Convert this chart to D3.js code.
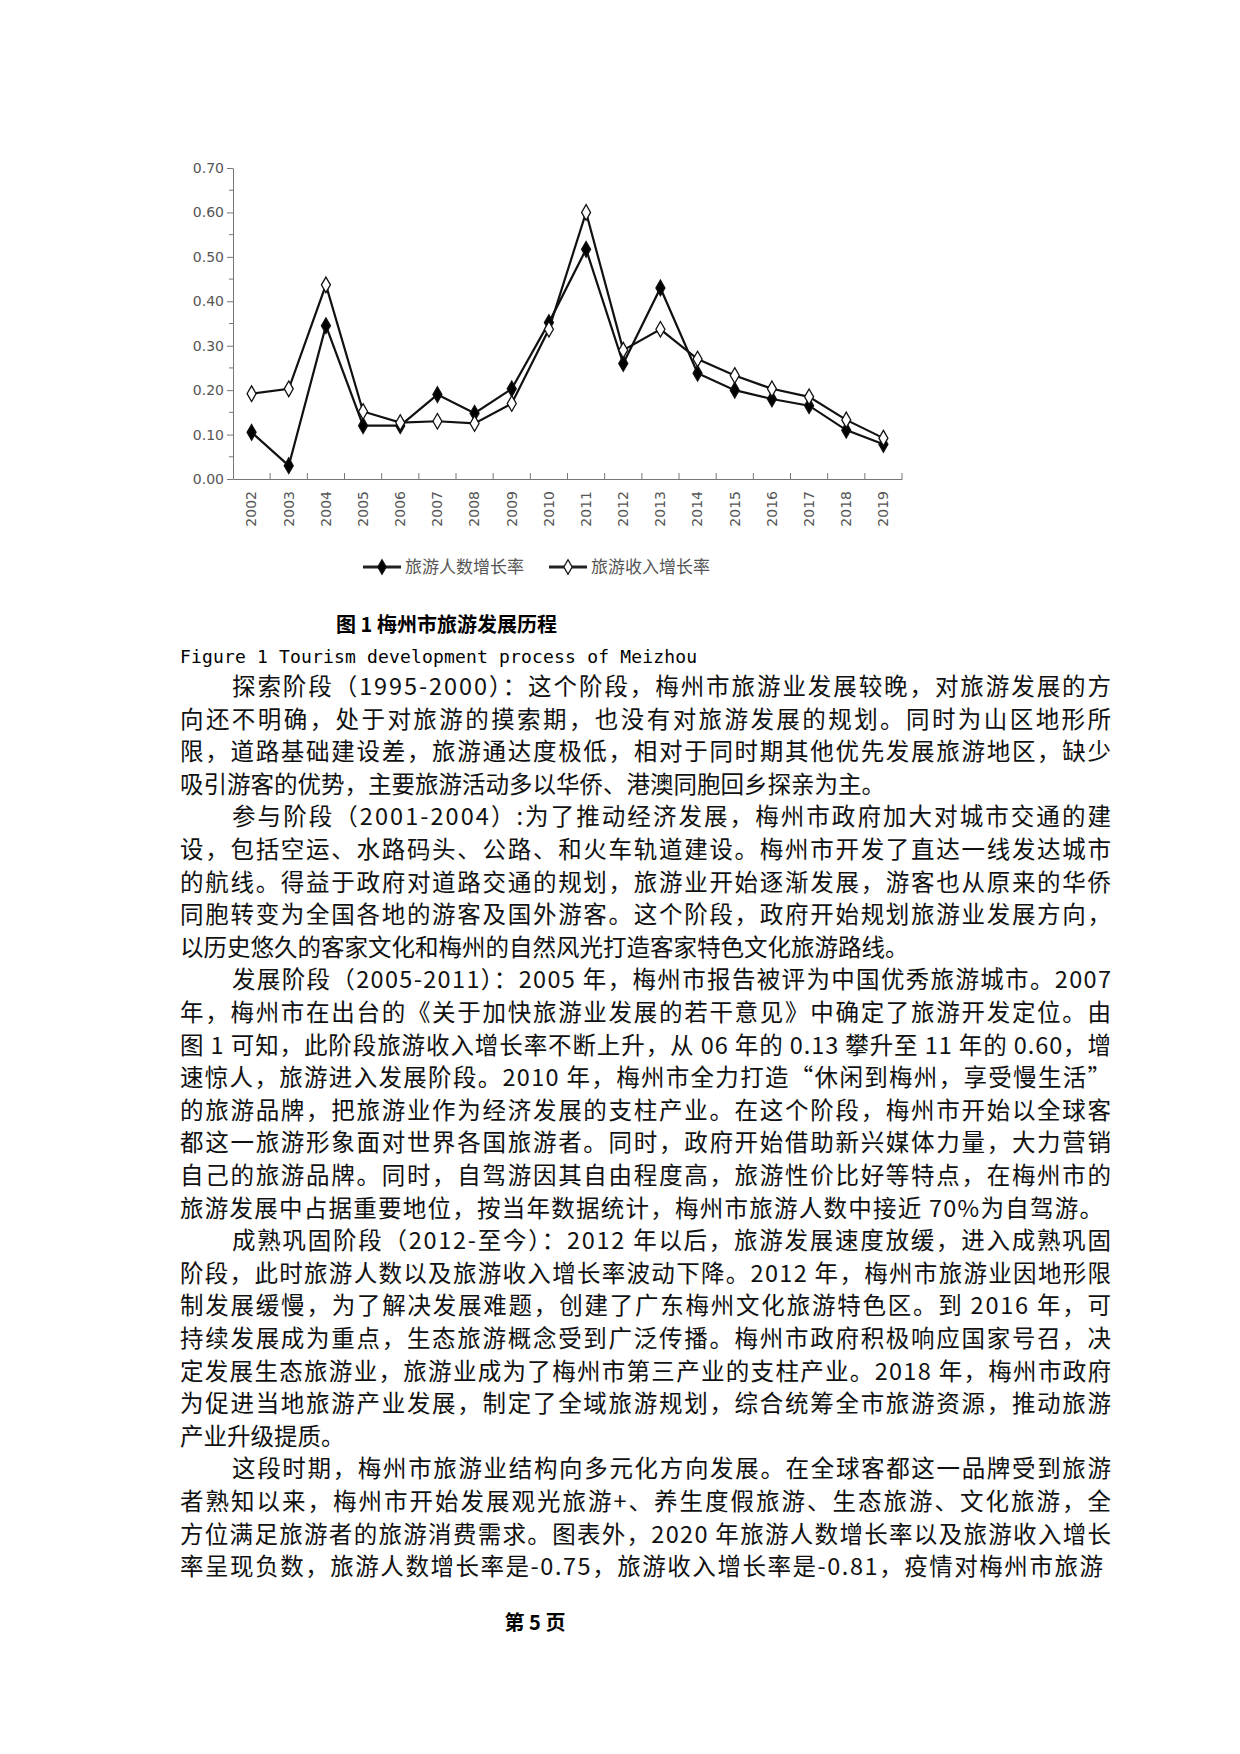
<!DOCTYPE html>
<html><head><meta charset="utf-8">
<script src="https://cdn.jsdelivr.net/npm/d3@7"></script>
<style>body{margin:0;background:#fff}</style></head>
<body><svg id="c" width="1240" height="1754"></svg>
<script>
const years = ["2002","2003","2004","2005","2006","2007","2008","2009","2010","2011","2012","2013","2014","2015","2016","2017","2018","2019"];
const visitorGrowth = [0.105,0.03,0.345,0.12,0.12,0.19,0.148,0.203,0.352,0.517,0.26,0.43,0.238,0.2,0.18,0.165,0.11,0.078];
const incomeGrowth = [0.192,0.203,0.437,0.152,0.127,0.13,0.125,0.17,0.337,0.60,0.29,0.337,0.27,0.233,0.203,0.185,0.133,0.092];
const yTicks = [0,0.1,0.2,0.3,0.4,0.5,0.6,0.7];
const seriesNames = ["旅游人数增长率","旅游收入增长率"];
const paragraphs = [
 ["探索阶段（1995-2000）：这个阶段，梅州市旅游业发展较晚，对旅游发展的方","向还不明确，处于对旅游的摸索期，也没有对旅游发展的规划。同时为山区地形所","限，道路基础建设差，旅游通达度极低，相对于同时期其他优先发展旅游地区，缺少","吸引游客的优势，主要旅游活动多以华侨、港澳同胞回乡探亲为主。"],
 ["参与阶段（2001-2004）:为了推动经济发展，梅州市政府加大对城市交通的建","设，包括空运、水路码头、公路、和火车轨道建设。梅州市开发了直达一线发达城市","的航线。得益于政府对道路交通的规划，旅游业开始逐渐发展，游客也从原来的华侨","同胞转变为全国各地的游客及国外游客。这个阶段，政府开始规划旅游业发展方向，","以历史悠久的客家文化和梅州的自然风光打造客家特色文化旅游路线。"],
 ["发展阶段（2005-2011）：2005 年，梅州市报告被评为中国优秀旅游城市。2007","年，梅州市在出台的《关于加快旅游业发展的若干意见》中确定了旅游开发定位。由","图 1 可知，此阶段旅游收入增长率不断上升，从 06 年的 0.13 攀升至 11 年的 0.60，增","速惊人，旅游进入发展阶段。2010 年，梅州市全力打造“休闲到梅州，享受慢生活”","的旅游品牌，把旅游业作为经济发展的支柱产业。在这个阶段，梅州市开始以全球客","都这一旅游形象面对世界各国旅游者。同时，政府开始借助新兴媒体力量，大力营销","自己的旅游品牌。同时，自驾游因其自由程度高，旅游性价比好等特点，在梅州市的","旅游发展中占据重要地位，按当年数据统计，梅州市旅游人数中接近 70%为自驾游。"],
 ["成熟巩固阶段（2012-至今）：2012 年以后，旅游发展速度放缓，进入成熟巩固","阶段，此时旅游人数以及旅游收入增长率波动下降。2012 年，梅州市旅游业因地形限","制发展缓慢，为了解决发展难题，创建了广东梅州文化旅游特色区。到 2016 年，可","持续发展成为重点，生态旅游概念受到广泛传播。梅州市政府积极响应国家号召，决","定发展生态旅游业，旅游业成为了梅州市第三产业的支柱产业。2018 年，梅州市政府","为促进当地旅游产业发展，制定了全域旅游规划，综合统筹全市旅游资源，推动旅游","产业升级提质。"],
 ["这段时期，梅州市旅游业结构向多元化方向发展。在全球客都这一品牌受到旅游","者熟知以来，梅州市开始发展观光旅游+、养生度假旅游、生态旅游、文化旅游，全","方位满足旅游者的旅游消费需求。图表外，2020 年旅游人数增长率以及旅游收入增长","率呈现负数，旅游人数增长率是-0.75，旅游收入增长率是-0.81，疫情对梅州市旅游"]
];
const svg = d3.select("#c");
const X0 = 233, X1 = 902, Y0 = 479, Y1 = 168;
const x = d3.scaleBand().domain(years).range([X0,X1]);
const y = d3.scaleLinear().domain([0,0.7]).range([Y0,Y1]);
const g = svg.append("g");
const ya = g.append("g").attr("transform",`translate(${X0},0)`)
  .call(d3.axisLeft(y).tickValues(yTicks).tickFormat(d3.format(".2f")).tickSize(6).tickSizeOuter(0));
ya.selectAll("text").attr("font-family","Tahoma, DejaVu Sans, sans-serif").attr("font-size",14).attr("fill","#555");
ya.selectAll("line,path").attr("stroke","#777");
const ym = d3.range(0.05,0.7,0.1);
g.selectAll(".mt").data(ym).join("line").attr("x1",X0).attr("x2",X0-4).attr("y1",d=>y(d)).attr("y2",d=>y(d)).attr("stroke","#777");
const xa = g.append("g").attr("transform",`translate(0,${Y0})`)
  .call(d3.axisBottom(x).tickSize(0).tickSizeOuter(0));
xa.select("path").attr("stroke","#777");
xa.selectAll("text").attr("font-family","DejaVu Sans, sans-serif").attr("font-size",14).attr("fill","#555")
  .attr("transform","rotate(-90)").attr("text-anchor","end").attr("dx","-12").attr("dy","0.35em").attr("x",0).attr("y",0);
g.selectAll(".xt").data(years).join("line")
  .attr("x1",(d,i)=>X0+x.step()*(i+1)).attr("x2",(d,i)=>X0+x.step()*(i+1)).attr("y1",Y0).attr("y2",Y0-6).attr("stroke","#777");
const line = d3.line().x((d,i)=>x(years[i])+x.bandwidth()/2).y(d=>y(d));
[visitorGrowth,incomeGrowth].forEach(arr=>{
  g.append("path").datum(arr).attr("d",line).attr("fill","none").attr("stroke","#111").attr("stroke-width",2.2);
});
[[visitorGrowth,"#000"],[incomeGrowth,"#fff"]].forEach(([arr,fill])=>{
  g.selectAll(null).data(arr).join("path")
   .attr("d",d3.symbol(d3.symbolDiamond,70))
   .attr("transform",(d,i)=>`translate(${x(years[i])+x.bandwidth()/2},${y(d)})`)
   .attr("fill",fill).attr("stroke","#111").attr("stroke-width",1.3);
});
// legend
const lg = svg.append("g").attr("transform","translate(363,567)");
seriesNames.forEach((n,i)=>{
  const ox = i===0?0:186;
  lg.append("line").attr("x1",ox).attr("x2",ox+38).attr("y1",0).attr("y2",0).attr("stroke","#222").attr("stroke-width",3);
  lg.append("path").attr("d",d3.symbol(d3.symbolDiamond,60)).attr("transform",`translate(${ox+19},0)`)
    .attr("fill",i===0?"#000":"#fff").attr("stroke","#111").attr("stroke-width",1.3);
  lg.append("text").attr("x",ox+42).attr("y",6).text(n).attr("font-family","Noto Sans CJK SC").attr("font-size",17).attr("fill","#555");
});
// captions
svg.append("text").attr("x",336).attr("y",632).text("图 1  梅州市旅游发展历程").attr("font-family","Noto Sans CJK SC").attr("font-weight","bold").attr("font-size",20);
svg.append("text").attr("x",180).attr("y",663).text("Figure 1 Tourism development process of Meizhou").attr("font-family","DejaVu Sans Mono").attr("font-size",18).attr("textLength",517);
// body text
let ly = 695;
const L = 180, R = 1111, fs = 23.5, lh = 32.6;
paragraphs.forEach(p=>{
  p.forEach((t,i)=>{
    const indent = i===0 ? 52 : 0;
    const last = i===p.length-1;
    const tx = svg.append("text").attr("x",L+indent).attr("y",ly).text(t)
      .attr("font-family","Noto Sans CJK SC").attr("font-size",fs).attr("fill","#111");
    if(!last || t.length>=36) tx.attr("textLength",(last? R-8 : R)-L-indent).attr("lengthAdjust","spacing");
    ly += lh;
  });
});
svg.append("text").attr("x",535).attr("y",1630).attr("text-anchor","middle").text("第 5 页").attr("font-family","Noto Sans CJK SC").attr("font-weight","bold").attr("font-size",20);
</script></body></html>
